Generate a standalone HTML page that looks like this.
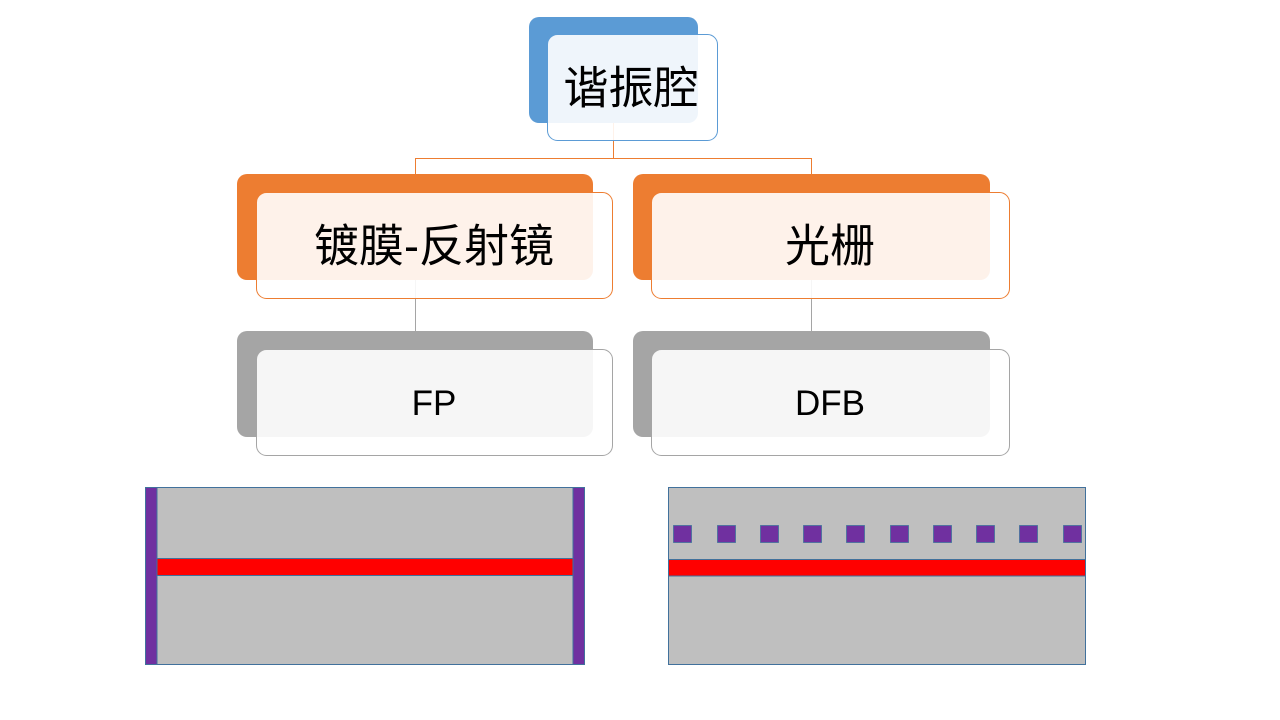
<!DOCTYPE html>
<html>
<head>
<meta charset="utf-8">
<style>
  html, body { margin:0; padding:0; background:#ffffff; }
  svg { display:block; }
  text { font-family: "Liberation Sans", "Noto Sans CJK SC", sans-serif; fill:#000; }
</style>
</head>
<body>
<svg width="1280" height="720" viewBox="0 0 1280 720" xmlns="http://www.w3.org/2000/svg">
  <rect x="0" y="0" width="1280" height="720" fill="#ffffff"/>

  <!-- connectors -->
  <g fill="none" stroke-width="1">
    <path d="M613.5 90 V158.5 H415.5 V190" stroke="#ED7D31"/>
    <path d="M613.5 158.5 H811.5 V190" stroke="#ED7D31"/>
    <path d="M415.5 250 V340" stroke="#A5A5A5"/>
    <path d="M811.5 250 V340" stroke="#A5A5A5"/>
  </g>

  <!-- Top: 谐振腔 -->
  <rect x="529" y="17" width="169" height="106" rx="10" fill="#5B9BD5"/>
  <rect x="547.5" y="34.5" width="170" height="106" rx="10" fill="#ffffff" fill-opacity="0.9" stroke="#5B9BD5" stroke-width="1"/>
  <text x="631" y="88" font-size="45" text-anchor="middle" dominant-baseline="central">谐振腔</text>

  <!-- Level 2 left -->
  <rect x="237" y="174" width="356" height="106" rx="10" fill="#ED7D31"/>
  <rect x="256.5" y="192.5" width="356" height="106" rx="10" fill="#ffffff" fill-opacity="0.9" stroke="#ED7D31" stroke-width="1"/>
  <text x="434" y="246" font-size="45" text-anchor="middle" dominant-baseline="central">镀膜-反射镜</text>

  <!-- Level 2 right -->
  <rect x="633" y="174" width="357" height="106" rx="10" fill="#ED7D31"/>
  <rect x="651.5" y="192.5" width="358" height="106" rx="10" fill="#ffffff" fill-opacity="0.9" stroke="#ED7D31" stroke-width="1"/>
  <text x="830" y="246" font-size="45" text-anchor="middle" dominant-baseline="central">光栅</text>

  <!-- Level 3 left -->
  <rect x="237" y="331" width="356" height="106" rx="10" fill="#A5A5A5"/>
  <rect x="256.5" y="349.5" width="356" height="106" rx="10" fill="#ffffff" fill-opacity="0.9" stroke="#A5A5A5" stroke-width="1"/>
  <text x="434" y="415" font-size="35" text-anchor="middle">FP</text>

  <!-- Level 3 right -->
  <rect x="633" y="331" width="357" height="106" rx="10" fill="#A5A5A5"/>
  <rect x="651.5" y="349.5" width="358" height="106" rx="10" fill="#ffffff" fill-opacity="0.9" stroke="#A5A5A5" stroke-width="1"/>
  <text x="830" y="415" font-size="35" text-anchor="middle">DFB</text>

  <!-- Bottom left: FP cavity -->
  <rect x="145.5" y="487.5" width="439" height="177" fill="#BFBFBF" stroke="#41719C" stroke-width="1"/>
  <rect x="145.5" y="487.5" width="11.5" height="177" fill="#7030A0" stroke="#41719C" stroke-width="1"/>
  <rect x="573" y="487.5" width="11.5" height="177" fill="#7030A0" stroke="#41719C" stroke-width="1"/>
  <rect x="157" y="558.5" width="416" height="17" fill="#FF0000" stroke="#41719C" stroke-width="1"/>

  <!-- Bottom right: DFB -->
  <rect x="668.5" y="487.5" width="417" height="177" fill="#BFBFBF" stroke="#41719C" stroke-width="1"/>
  <g fill="#7030A0" stroke="#41719C" stroke-width="0.8">
    <rect x="673.5" y="525.5" width="18" height="17"/>
    <rect x="717.5" y="525.5" width="18" height="17"/>
    <rect x="760.5" y="525.5" width="18" height="17"/>
    <rect x="803.5" y="525.5" width="18" height="17"/>
    <rect x="846.5" y="525.5" width="18" height="17"/>
    <rect x="890.5" y="525.5" width="18" height="17"/>
    <rect x="933.5" y="525.5" width="18" height="17"/>
    <rect x="976.5" y="525.5" width="18" height="17"/>
    <rect x="1019.5" y="525.5" width="18" height="17"/>
    <rect x="1063.5" y="525.5" width="18" height="17"/>
  </g>
  <rect x="668.5" y="559.5" width="417" height="16.5" fill="#FF0000" stroke="#41719C" stroke-width="1"/>
</svg>
</body>
</html>
